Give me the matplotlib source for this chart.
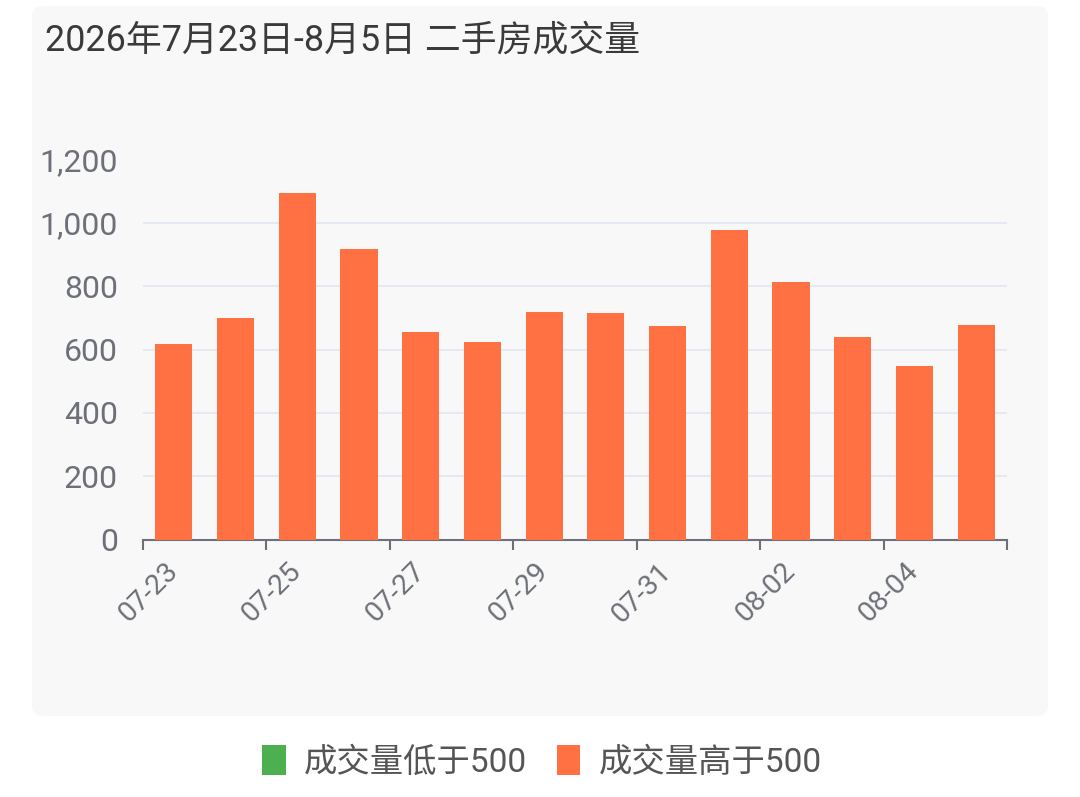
import matplotlib.pyplot as plt
from matplotlib.patches import FancyBboxPatch, Patch

plt.rcParams['font.family'] = ['Roboto', 'Noto Sans CJK SC', 'DejaVu Sans']

# data
dates = ["07-23", "07-24", "07-25", "07-26", "07-27", "07-28", "07-29",
         "07-30", "07-31", "08-01", "08-02", "08-03", "08-04", "08-05"]
volumes = [616, 701, 1093, 917, 654, 625, 720, 715, 674, 977, 814, 640, 549, 677]
threshold = 500
title = "2026年7月23日-8月5日 二手房成交量"
low_label = "成交量低于500"
high_label = "成交量高于500"

low_color = "#4caf50"
high_color = "#ff7043"
axis_color = "#6e7079"

W, H = 1080, 797
fig = plt.figure(figsize=(W / 100, H / 100), dpi=100, facecolor="white")

# light rounded panel behind the chart
panel = FancyBboxPatch((32 / W, 1 - 716 / H), (1048 - 32) / W, (716 - 6) / H,
                       boxstyle="round,pad=0,rounding_size=0.012",
                       transform=fig.transFigure, facecolor="#f8f8f8",
                       edgecolor="none", zorder=-10)
fig.patches.append(panel)

ax = fig.add_axes([143 / W, 1 - 539.5 / H, (1007 - 143) / W, (539.5 - 159.5) / H])
ax.set_facecolor("none")
ax.set_zorder(1)

x = list(range(len(dates)))
colors = [low_color if v < threshold else high_color for v in volumes]
ax.bar(x, volumes, width=0.6, color=colors, zorder=3)

ax.set_xlim(-0.5, len(dates) - 0.5)
ax.set_ylim(0, 1200)
ax.set_yticks(range(0, 1201, 200))
ax.set_yticklabels([f"{v:,}" for v in range(0, 1201, 200)])
ax.grid(axis="y", color="#e0e6f1", linewidth=1.1, zorder=1)
ax.tick_params(axis="y", length=0, pad=18, labelsize=23, labelcolor=axis_color)

# tick marks on band edges, labels on every other band
ax.set_xticks([i - 0.5 for i in range(0, len(dates) + 1, 2)])
ax.set_xticklabels([])
ax.tick_params(axis="x", which="major", length=7, width=1.5, color=axis_color)
ax.set_xticks(x[::2], minor=True)
ax.set_xticklabels(dates[::2], minor=True)
ax.tick_params(axis="x", which="minor", length=0, pad=20, labelsize=20.5,
               labelcolor=axis_color)
plt.setp(ax.get_xticklabels(minor=True), rotation=45, ha="right", va="center",
         rotation_mode="anchor")

for side in ["top", "right", "left"]:
    ax.spines[side].set_visible(False)
ax.spines["bottom"].set_color(axis_color)
ax.spines["bottom"].set_linewidth(1.5)

fig.text(45 / W, 1 - 41 / H, title, fontsize=25.8, color="#3a3a3a", va="center")

handles = [Patch(facecolor=low_color, edgecolor="none", label=low_label),
           Patch(facecolor=high_color, edgecolor="none", label=high_label)]
fig.legend(handles=handles, loc="center", bbox_to_anchor=(0.502, 1 - 762 / H),
           ncol=2, frameon=False, fontsize=24, labelcolor="#555555",
           handlelength=0.7, handleheight=1.0, handletextpad=0.55,
           columnspacing=0.9)

fig.savefig("out.png", dpi=100, facecolor="white")
